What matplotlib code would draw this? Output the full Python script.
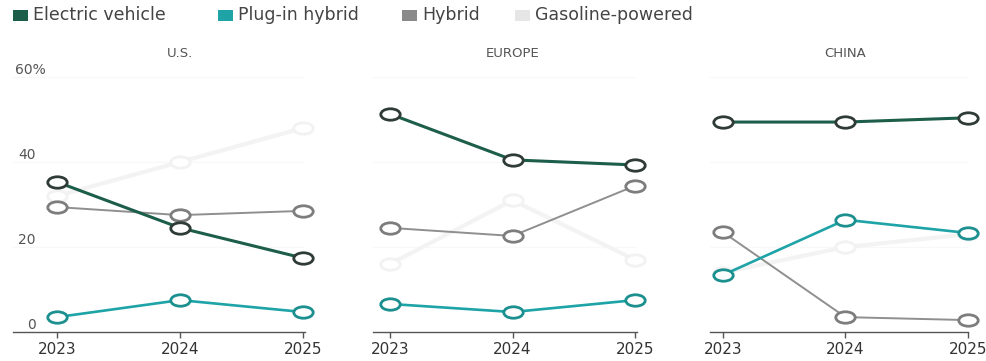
import matplotlib.pyplot as plt
import matplotlib.transforms as mtransforms
from matplotlib.patches import Rectangle
from matplotlib.path import Path

plt.rcParams['font.family'] = ['DejaVu Sans']

years = [2023, 2024, 2025]
regions = ['U.S.', 'EUROPE', 'CHINA']
series = ['Electric vehicle', 'Plug-in hybrid', 'Hybrid', 'Gasoline-powered']

# share of respondents, %
us_ev = [35.3, 24.5, 17.4]
us_phev = [3.5, 7.5, 4.7]
us_hybrid = [29.4, 27.5, 28.5]
us_gas = [32, 40, 48]

eu_ev = [51.3, 40.5, 39.3]
eu_phev = [6.6, 4.7, 7.5]
eu_hybrid = [24.5, 22.6, 34.4]
eu_gas = [16, 31, 17]

cn_ev = [49.4, 49.4, 50.4]
cn_phev = [13.4, 26.4, 23.3]
cn_hybrid = [23.5, 3.5, 2.8]
cn_gas = [14, 20, 23]

yticks = [0, 20, 40, 60]
ytick_labels = ['0', '20', '40', '60%']

data = {
    'U.S.': [us_ev, us_phev, us_hybrid, us_gas],
    'EUROPE': [eu_ev, eu_phev, eu_hybrid, eu_gas],
    'CHINA': [cn_ev, cn_phev, cn_hybrid, cn_gas],
}

# line colour, marker edge colour, line width (order: EV, PHEV, hybrid, gas)
styles = [
    ('#1d5e4b', '#2f3b37', 2.2),
    ('#1ea3a6', '#1c8f8f', 1.9),
    ('#8f8f8f', '#7d7d7d', 1.4),
    ('#f3f3f3', '#f2f2f2', 3.0),
]
zorders = [6, 5, 4, 3]
legend_colors = ['#1d5e4b', '#1ea3a6', '#8a8a8a', '#e6e6e6']

# the source picture is stretched sideways, so the rings are wide ellipses
circ = Path.unit_circle()
ring = Path(circ.vertices * [1.7, 1.0], circ.codes)

W, H = 987, 361
fig = plt.figure(figsize=(W / 100, H / 100), dpi=100)

# panel extents in pixels: axis-line left, right, x of 2023, x of 2025
panels = [(13, 305, 57, 303), (373, 637, 390, 635), (710, 968, 723, 970)]
y0, y60 = 332, 77

for reg, (l, r, xa, xb) in zip(regions, panels):
    ax = fig.add_axes([l / W, (H - y0) / H, (r - l) / W, (y0 - y60) / H])
    per = (xb - xa) / 2.0
    ax.set_xlim(2023 - (xa - l) / per, 2025 + (r - xb) / per)
    ax.set_ylim(0, 60)
    for s in ['top', 'right', 'left']:
        ax.spines[s].set_visible(False)
    ax.spines['bottom'].set_color('#555555')
    ax.spines['bottom'].set_linewidth(1.0)
    ax.set_yticks([])
    ax.set_xticks(years)
    ax.set_xticklabels([str(y) for y in years], fontsize=11, color='#333333')
    ax.tick_params(axis='x', length=4, width=1, color='#555555', pad=3)
    for v in yticks[1:]:
        ax.axhline(v, color='#f8f8f8', lw=0.8, zorder=0)

    vals = data[reg]
    for i in [3, 2, 1, 0]:
        lc, mc, lw = styles[i]
        ax.plot(years, vals[i], color=lc, lw=lw, marker=ring, ms=14,
                mfc='white', mec=mc, mew=2.0, zorder=zorders[i], clip_on=False)

    ax.text(2024, 1.065, reg, transform=mtransforms.blended_transform_factory(ax.transData, ax.transAxes),
            ha='center', va='bottom', fontsize=9.5, color='#555555')

    if reg == 'U.S.':
        tr = mtransforms.blended_transform_factory(fig.transFigure, ax.transData)
        for v, lab in zip(yticks, ytick_labels):
            if lab.endswith('%'):
                ax.text(15 / W, v + 1.6, lab, transform=tr, ha='left', va='center',
                        fontsize=10, color='#555555')
            else:
                ax.text(36 / W, v + 1.6, lab, transform=tr, ha='right', va='center',
                        fontsize=10, color='#555555')

# legend laid out by hand to follow the wide spacing of the source
leg_x = [13, 218, 402, 515]
for name, c, x in zip(series, legend_colors, leg_x):
    fig.add_artist(Rectangle((x / W, 1 - 21 / H), 15 / W, 11 / H, transform=fig.transFigure,
                             facecolor=c, edgecolor='none'))
    fig.text((x + 20) / W, 1 - 15.5 / H, name, ha='left', va='center',
             fontsize=12.5, color='#444444')

fig.savefig('out.png', dpi=100)
